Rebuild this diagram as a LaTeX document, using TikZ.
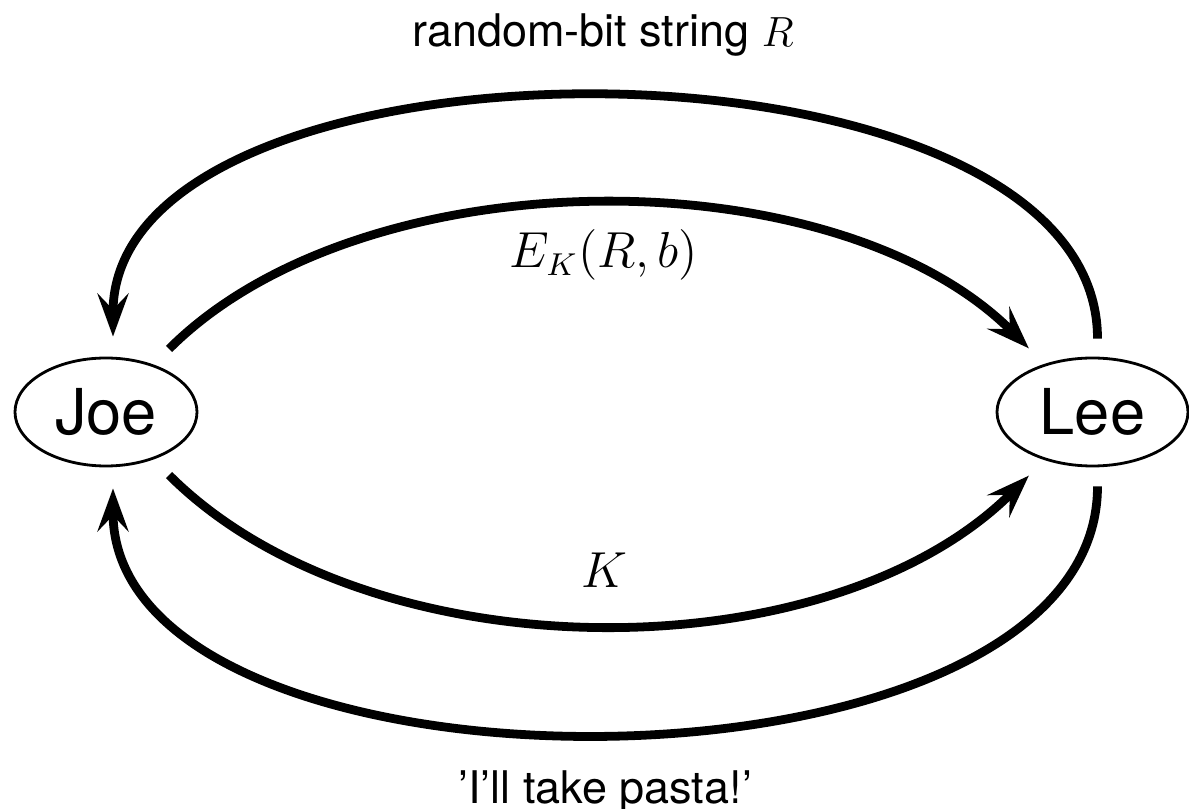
\documentclass[tikz,border=0pt]{standalone}
\usepackage[no-math]{fontspec}
\setmainfont{TeX Gyre Heros}
\usetikzlibrary{arrows.meta,shapes.geometric}

\begin{document}
\begin{tikzpicture}[font=\fontsize{12.8}{15}\selectfont,
  party/.style={ellipse,draw,line width=0.8pt,minimum width=1.82cm,
    minimum height=1.08cm,inner sep=0pt,font=\fontsize{18}{21}\selectfont},
  msg/.style={line width=2.5pt,
    -{Stealth[length=0.43cm,width=0.31cm,inset=0.16cm]}},
  mathlbl/.style={anchor=base,font=\fontsize{13.4}{16}\selectfont}]
  \useasboundingbox (0,0) rectangle (11.89,8.08);

  \node[party] (joe) at (1.06,3.96) {Joe};
  \node[party,minimum width=1.91cm] (lee) at (10.925,3.96) {Lee};

  % outer loops, Lee -> Joe
  \draw[msg,shorten <=0.18cm,shorten >=0.2cm] ([xshift=0.5mm]lee.north)
    .. controls +(0,3.4) and +(0,3.4) .. ([xshift=0.7mm]joe.north);
  \draw[msg,shorten <=0.19cm,shorten >=0.21cm] ([xshift=0.5mm]lee.south)
    .. controls +(0,-3.48) and +(0,-3.48) .. ([xshift=0.7mm]joe.south);
  % inner loops, Joe -> Lee
  \draw[msg,shorten <=0.22cm,shorten >=0.22cm] (joe.45)
    .. controls +(45:2.96) and +(135:2.96) .. (lee.135);
  \draw[msg,shorten <=0.22cm,shorten >=0.22cm] (joe.-45)
    .. controls +(-45:3.05) and +(-135:3.05) .. (lee.-135);

  \node[anchor=base] (lblR) at (6.03,7.61) {random-bit string $R$};
  \node[mathlbl] (lblE) at (6.04,5.40) {$E_K(R,b)$};
  \node[mathlbl] (lblK) at (6.04,2.20) {$K$};
  \node[anchor=base] (lblP) at (6.05,0.05) {'I'll take pasta!'};
\end{tikzpicture}
\end{document}
